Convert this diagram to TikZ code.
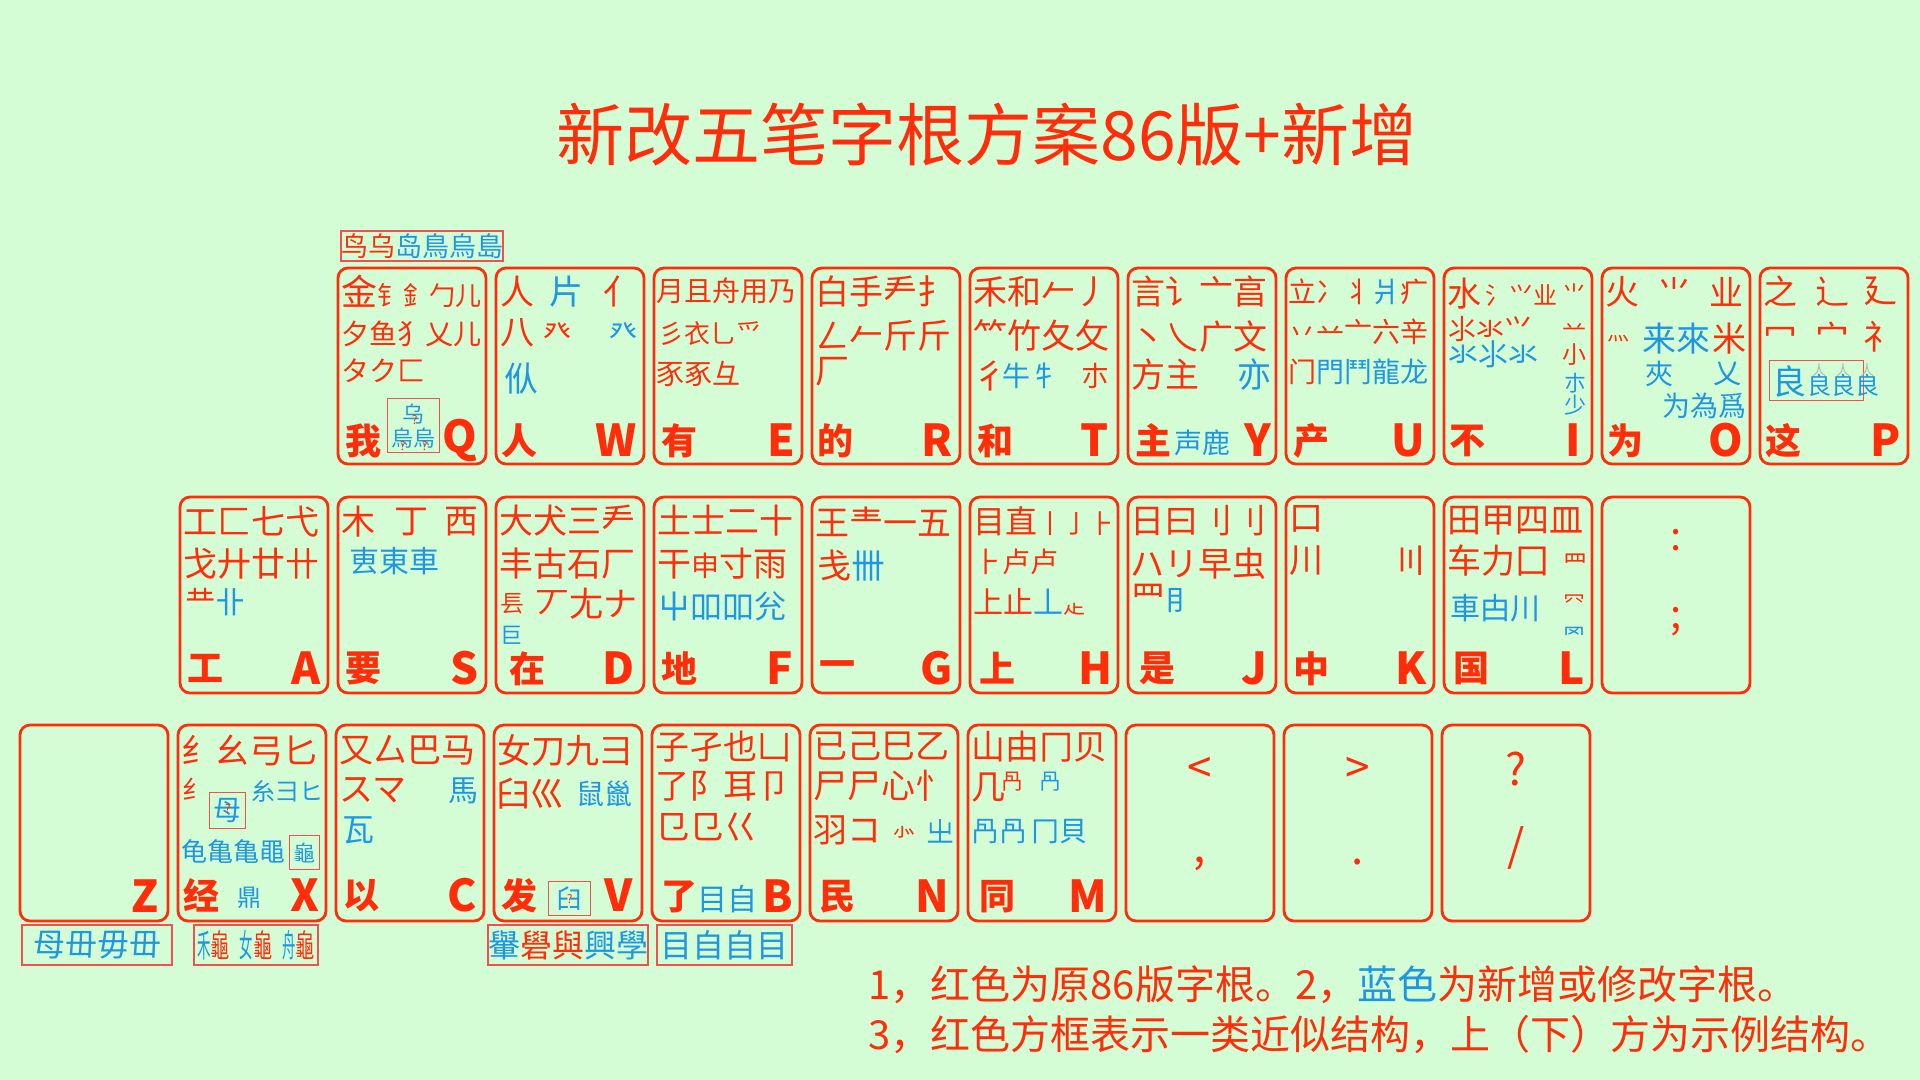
\documentclass[tikz,border=0pt]{standalone}
\usepackage{fontspec}
\usepackage{graphicx}
\setmainfont{Noto Sans CJK SC}
\usetikzlibrary{calc,positioning}

\definecolor{kred}{RGB}{255,45,10}
\definecolor{kblue}{RGB}{30,150,225}
\definecolor{kbg}{RGB}{213,253,213}
\definecolor{kbox}{RGB}{240,80,80}
\definecolor{kgrey}{RGB}{175,185,175}
\newcommand{\blu}[1]{\textcolor{kblue}{#1}}
\newcommand{\guicomp}[1]{\blu{\scalebox{0.42}[1]{#1}}\scalebox{0.6}[1]{龜}}

\tikzset{
  keybox/.style={draw=kred, line width=1.4pt, rounded corners=5pt,
    minimum width=74pt, minimum height=98pt, inner sep=0pt},
  rad/.style={anchor=west, inner sep=0pt, text=kred, font=\fontsize{17}{17}\selectfont},
  radsm/.style={rad, font=\fontsize{14}{14}\selectfont},
  radxs/.style={rad, font=\fontsize{11}{11}\selectfont},
  bl/.style={text=kblue},
  keych/.style={anchor=west, inner sep=0pt, text=kred, font=\fontsize{18}{18}\selectfont\bfseries},
  keylet/.style={anchor=east, inner sep=0pt, text=kred, font=\fontsize{22}{22}\selectfont\bfseries},
  punct/.style={inner sep=0pt, text=kred, font=\fontsize{22}{22}\selectfont},
  qmark/.style={inner sep=0pt, text=kred, font=\fontsize{6}{6}\selectfont},
  samplebox/.style={draw=kbox, line width=0.7pt, inner sep=0pt, text=kblue,
    font=\fontsize{16}{16}\selectfont},
  note/.style={anchor=west, inner sep=0pt, text=kred, font=\fontsize{20}{20}\selectfont},
}

\begin{document}
\begin{tikzpicture}[x=0.5pt, y=-0.5pt]
\fill[kbg] (0,0) rectangle (1920,1080);
\useasboundingbox (0,0) rectangle (1920,1080);

\node[inner sep=0pt, text=kred, font=\fontsize{34}{34}\selectfont] (title) at (987,135) {新改五笔字根方案86版+新增};

% key boxes
\foreach \k/\x in {q/338,w/496,e/654,r/812,t/970,y/1128,u/1286,i/1444,o/1602,p/1760}
  \node[keybox] (\k) at (\x+74,366) {};
\foreach \k/\x in {a/180,s/338,d/496,f/654,g/812,h/970,j/1128,k/1286,l/1444,semi/1602}
  \node[keybox] (\k) at (\x+74,595) {};
\foreach \k/\x in {z/20,x/178,c/336,v/494,b/652,n/810,m/968,lt/1126,gt/1284,qm/1442}
  \node[keybox] (\k) at (\x+74,823) {};

% Q
\node[samplebox, minimum width=79pt, minimum height=15pt, font=\fontsize{13.5}{13.5}\selectfont] (q-smp) at (422,246) {\textcolor{kred}{鸟乌}岛鳥烏島};
\node[rad, font=\fontsize{13}{13}\selectfont] (q-r1) at ($(q.north west)+(4,25)$) {{\fontsize{18}{18}\selectfont 金}钅釒勹儿};
\node[radsm] (q-r2) at ($(q.north west)+(4,67)$) {夕鱼犭乂儿};
\node[radsm] (q-r3) at ($(q.north west)+(4,104)$) {タク匚};
\node[keych] (q-ch) at ($(q.north west)+(8,174)$) {我};
\node[samplebox, minimum width=26pt, minimum height=27pt] (q-bx) at ($(q.north west)+(77,159)$) {};
\node[radxs, bl, anchor=center] (q-bx1) at ($(q-bx.center)+(0,-12)$) {乌};
\node[radxs, bl, anchor=center] (q-bx2) at ($(q-bx.center)+(0,13)$) {烏烏};
\node[qmark] (q-bxq1) at ($(q-bx1.center)+(1,6)$) {?};
\node[qmark] (q-bxq2) at ($(q-bx2.center)+(-11,7)$) {?};
\node[qmark] (q-bxq3) at ($(q-bx2.center)+(11,7)$) {?};
\node[keylet] (q-let) at ($(q.north east)+(-10,174)$) {Q};

% W
\node[rad] (w-r1a) at ($(w.north west)+(5,25)$) {人};
\node[rad, bl] (w-r1b) at ($(w.north west)+(54,25)$) {片};
\node[rad, anchor=east] (w-r1c) at ($(w.north east)+(-8,25)$) {亻};
\node[rad] (w-r2a) at ($(w.north west)+(5,66)$) {八};
\node[radsm] (w-r2b) at ($(w.north west)+(48,66)$) {癶};
\node[radsm, bl, anchor=east] (w-r2c) at ($(w.north east)+(-8,66)$) {癶};
\node[rad, bl] (w-r3) at ($(w.north west)+(9,112)$) {㐺};
\node[keych] (w-ch) at ($(w.north west)+(6,174)$) {人};
\node[keylet] (w-let) at ($(w.north east)+(-8,174)$) {W};

% E
\node[radsm] (e-r1) at ($(e.north west)+(3,24)$) {月且舟用乃};
\node[radsm, font=\fontsize{13}{13}\selectfont] (e-r2) at ($(e.north west)+(5,67)$) {彡衣⺃爫};
\node[radsm] (e-r3) at ($(e.north west)+(3,107)$) {豕豖彑};
\node[keych] (e-ch) at ($(e.north west)+(8,174)$) {有};
\node[keylet] (e-let) at ($(e.north east)+(-8,174)$) {E};

% R
\node[rad] (r-r1) at ($(r.north west)+(4,25)$) {白手龵扌};
\node[rad] (r-r2) at ($(r.north west)+(4,69)$) {ㄥ𠂉斤斤};
\node[rad] (r-r3) at ($(r.north west)+(4,105)$) {厂};
\node[keych] (r-ch) at ($(r.north west)+(6,174)$) {的};
\node[keylet] (r-let) at ($(r.north east)+(-8,174)$) {R};

% T
\node[rad] (t-r1) at ($(t.north west)+(4,25)$) {禾和𠂉丿};
\node[rad] (t-r2) at ($(t.north west)+(4,69)$) {⺮竹夂攵};
\node[rad] (t-r3a) at ($(t.north west)+(4,109)$) {彳};
\node[radsm, bl] (t-r3b) at ($(t.north west)+(33,109)$) {牛牜};
\node[radsm, anchor=east] (t-r3c) at ($(t.north east)+(-10,109)$) {朩};
\node[keych] (t-ch) at ($(t.north west)+(8,174)$) {和};
\node[keylet] (t-let) at ($(t.north east)+(-10,174)$) {T};

% Y
\node[rad] (y-r1) at ($(y.north west)+(4,25)$) {言讠亠亯};
\node[rad] (y-r2) at ($(y.north west)+(4,70)$) {丶乀广文};
\node[rad] (y-r3a) at ($(y.north west)+(4,108)$) {方主};
\node[rad, bl, anchor=east] (y-r3b) at ($(y.north east)+(-6,108)$) {亦};
\node[keych] (y-ch) at ($(y.north west)+(8,174)$) {主};
\node[radsm, bl] (y-ch2) at ($(y.north west)+(47,176)$) {声鹿};
\node[keylet] (y-let) at ($(y.north east)+(-6,174)$) {Y};

% U
\node[radsm] (u-r1) at ($(u.north west)+(3,25)$) {立冫丬\blu{爿}疒};
\node[radsm] (u-r2) at ($(u.north west)+(3,65)$) {丷䒑亠六辛};
\node[radsm] (u-r3) at ($(u.north west)+(3,105)$) {门\blu{門鬥龍龙}};
\node[keych] (u-ch) at ($(u.north west)+(8,174)$) {产};
\node[keylet] (u-let) at ($(u.north east)+(-10,174)$) {U};

% I
\node[rad] (i-r1a) at ($(i.north west)+(4,27)$) {水};
\node[radsm, font=\fontsize{12}{12}\selectfont] (i-r1b) at ($(i.north west)+(42,29)$) {氵⺍业};
\node[radsm] (i-r2) at ($(i.north west)+(5,62)$) {⺢氺⺍};
\node[radsm, bl, font=\fontsize{15}{15}\selectfont] (i-r3) at ($(i.north west)+(5,88)$) {氺⺢氺};
\node[radxs, font=\fontsize{12}{12}\selectfont, anchor=east] (i-c1) at ($(i.north east)+(-7,27)$) {⺌};
\node[radxs, font=\fontsize{12}{12}\selectfont, anchor=east] (i-c2) at ($(i.north east)+(-7,64)$) {䒑};
\node[radxs, font=\fontsize{12}{12}\selectfont, anchor=east] (i-c3) at ($(i.north east)+(-7,88)$) {小};
\node[radxs, bl, anchor=east] (i-c4) at ($(i.north east)+(-7,117)$) {朩};
\node[radxs, bl, anchor=east] (i-c5) at ($(i.north east)+(-7,139)$) {少};
\node[keych] (i-ch) at ($(i.north west)+(6,174)$) {不};
\node[keylet] (i-let) at ($(i.north east)+(-12,174)$) {I};

% O
\node[rad] (o-r1a) at ($(o.north west)+(4,25)$) {火};
\node[rad] (o-r1b) at ($(o.north west)+(56,25)$) {⺌};
\node[rad, anchor=east] (o-r1c) at ($(o.north east)+(-8,25)$) {业};
\node[radxs] (o-r2a) at ($(o.north west)+(6,72)$) {灬};
\node[rad, bl] (o-r2b) at ($(o.north west)+(41,72)$) {来來};
\node[rad, anchor=east] (o-r2c) at ($(o.north east)+(-5,72)$) {米};
\node[radsm, bl] (o-r3a) at ($(o.north west)+(44,107)$) {夾};
\node[radsm, bl] (o-r3b) at ($(o.north west)+(112,107)$) {乂};
\node[radsm, bl, anchor=east] (o-r4) at ($(o.north east)+(-5,139)$) {为為爲};
\node[keych] (o-ch) at ($(o.north west)+(6,174)$) {为};
\node[keylet] (o-let) at ($(o.north east)+(-8,174)$) {O};

% P
\node[rad] (p-r1a) at ($(p.north west)+(4,25)$) {之};
\node[rad] (p-r1b) at ($(p.north west)+(56,25)$) {辶};
\node[rad] (p-r1c) at ($(p.north west)+(104,25)$) {廴};
\node[rad] (p-r2a) at ($(p.north west)+(4,70)$) {冖};
\node[rad] (p-r2b) at ($(p.north west)+(56,70)$) {宀};
\node[rad] (p-r2c) at ($(p.north west)+(104,70)$) {礻};
\node[samplebox, minimum width=47pt, minimum height=20pt] (p-bx) at ($(p.north west)+(58,114)$) {};
\node[rad, bl] (p-bx0) at ($(p-bx.west)+(3,1)$) {良};
\node[radxs, bl, font=\fontsize{12}{12}\selectfont] (p-bx1) at ($(p-bx0.east)+(0,4)$) {良良良};
\node[radxs, text=kgrey, font=\fontsize{7}{7}\selectfont, anchor=south] (p-bx2) at ($(p-bx1.north)+(0,3)$) {\makebox[12pt]{人}\makebox[12pt]{人}\makebox[12pt]{人}};
\node[keych] (p-ch) at ($(p.north west)+(6,174)$) {这};
\node[keylet] (p-let) at ($(p.north east)+(-8,174)$) {P};

% A
\node[rad] (a-r1) at ($(a.north west)+(4,26)$) {工匚七弋};
\node[rad] (a-r2) at ($(a.north west)+(4,68)$) {戈廾廿卄};
\node[radsm, font=\fontsize{15}{15}\selectfont] (a-r3) at ($(a.north west)+(6,106)$) {龷\blu{卝}};
\node[keych] (a-ch) at ($(a.north west)+(8,173)$) {工};
\node[keylet] (a-let) at ($(a.north east)+(-8,173)$) {A};

% S
\node[rad] (s-r1a) at ($(s.north west)+(4,26)$) {木};
\node[rad] (s-r1b) at ($(s.north west)+(57,26)$) {丁};
\node[rad, anchor=east] (s-r1c) at ($(s.north east)+(-9,26)$) {西};
\node[radsm, bl, font=\fontsize{15}{15}\selectfont] (s-r2) at ($(s.north west)+(12,66)$) {叀東車};
\node[keych] (s-ch) at ($(s.north west)+(8,173)$) {要};
\node[keylet] (s-let) at ($(s.north east)+(-8,173)$) {S};

% D
\node[rad] (d-r1) at ($(d.north west)+(4,25)$) {大犬三龵};
\node[rad] (d-r2) at ($(d.north west)+(4,68)$) {丰古石厂};
\node[radxs, font=\fontsize{12}{12}\selectfont] (d-r3a) at ($(d.north west)+(5,108)$) {镸};
\node[rad] (d-r3b) at ($(d.north west)+(40,108)$) {丆尢ナ};
\node[radxs, bl] (d-r4) at ($(d.north west)+(5,140)$) {巨};
\node[keych] (d-ch) at ($(d.north west)+(14,173)$) {在};
\node[keylet] (d-let) at ($(d.north east)+(-10,173)$) {D};

% F
\node[rad] (f-r1) at ($(f.north west)+(4,25)$) {土士二十};
\node[rad] (f-r2) at ($(f.north west)+(4,68)$) {干{\fontsize{14}{14}\selectfont 申}寸雨};
\node[rad, bl, font=\fontsize{16}{16}\selectfont] (f-r3) at ($(f.north west)+(5,111)$) {屮吅吅兊};
\node[keych] (f-ch) at ($(f.north west)+(8,173)$) {地};
\node[keylet] (f-let) at ($(f.north east)+(-10,173)$) {F};

% G
\node[rad] (g-r1) at ($(g.north west)+(4,26)$) {王龶一五};
\node[rad] (g-r2) at ($(g.north west)+(6,70)$) {戋\blu{卌}};
\node[keych] (g-ch) at ($(g.north west)+(8,173)$) {一};
\node[keylet] (g-let) at ($(g.north east)+(-8,173)$) {G};

% H
\node[rad, font=\fontsize{16}{16}\selectfont] (h-r1) at ($(h.north west)+(4,26)$) {目直{\fontsize{13}{13}\selectfont 丨亅⺊}};
\node[radsm] (h-r2) at ($(h.north west)+(5,66)$) {⺊卢卢};
\node[radsm, font=\fontsize{15}{15}\selectfont] (h-r3) at ($(h.north west)+(4,106)$) {上止\blu{丄}{\fontsize{11}{11}\selectfont 龰}};
\node[keych] (h-ch) at ($(h.north west)+(10,173)$) {上};
\node[keylet] (h-let) at ($(h.north east)+(-6,173)$) {H};

% J
\node[rad] (j-r1) at ($(j.north west)+(3,25)$) {日曰刂⺉};
\node[rad] (j-r2) at ($(j.north west)+(3,68)$) {ハリ早虫};
\node[rad] (j-r3) at ($(j.north west)+(4,103)$) {⺫{\color{kblue}\fontsize{14}{14}\selectfont ⺝}};
\node[keych] (j-ch) at ($(j.north west)+(12,173)$) {是};
\node[keylet] (j-let) at ($(j.north east)+(-10,173)$) {J};

% K
\node[rad] (k-r1) at ($(k.north west)+(4,23)$) {口};
\node[rad] (k-r2a) at ($(k.north west)+(4,65)$) {川};
\node[rad, anchor=east] (k-r2b) at ($(k.north east)+(-8,65)$) {〣};
\node[keych] (k-ch) at ($(k.north west)+(8,173)$) {中};
\node[keylet] (k-let) at ($(k.north east)+(-8,173)$) {K};

% L
\node[rad] (l-r1) at ($(l.north west)+(4,25)$) {田甲四皿};
\node[rad] (l-r2) at ($(l.north west)+(4,65)$) {车力囗};
\node[radxs, font=\fontsize{12}{12}\selectfont, anchor=east] (l-c2) at ($(l.north east)+(-6,68)$) {⺲};
\node[radsm, bl, font=\fontsize{15}{15}\selectfont] (l-r3) at ($(l.north west)+(7,113)$) {車甴川};
\node[radxs, anchor=east] (l-c3) at ($(l.north east)+(-8,108)$) {㓁};
\node[radxs, bl, anchor=east] (l-c4) at ($(l.north east)+(-8,140)$) {罓};
\node[keych] (l-ch) at ($(l.north west)+(10,173)$) {国};
\node[keylet] (l-let) at ($(l.north east)+(-8,173)$) {L};

% semicolon key
\node[punct, font=\fontsize{20}{20}\selectfont] (semi-a) at ($(semi.north)+(0,45)$) {:};
\node[punct, font=\fontsize{20}{20}\selectfont] (semi-b) at ($(semi.north)+(0,126)$) {;};

% Z
\node[keylet] (z-let) at ($(z.north east)+(-10,173)$) {Z};
\node[samplebox, minimum width=75pt, minimum height=20pt] (z-smp) at (97,945) {母毌毋毌};

% X
\node[rad] (x-r1) at ($(x.north west)+(4,27)$) {纟幺弓匕};
\node[radsm, font=\fontsize{13}{13}\selectfont] (x-r2a) at ($(x.north west)+(5,65)$) {纟};
\node[samplebox, minimum width=18pt, minimum height=18pt] (x-bx) at ($(x.north west)+(51,87)$) {};
\node[radsm, bl, anchor=center] (x-bx1) at (x-bx.center) {母};
\node[qmark] (x-bxq) at ($(x-bx.center)+(0,-2)$) {?};
\node[radsm, bl, font=\fontsize{12}{12}\selectfont] (x-r2b) at ($(x.north west)+(74,68)$) {糸⺕ヒ};
\node[radsm, bl, font=\fontsize{13}{13}\selectfont] (x-r3) at ($(x.north west)+(4,128)$) {龟亀亀黽};
\node[samplebox, minimum width=15pt, minimum height=17pt] (x-bx2) at ($(x.north west)+(128,129)$) {};
\node[radxs, bl, anchor=center] (x-bx3) at (x-bx2.center) {龜};
\node[keych] (x-ch) at ($(x.north west)+(6,172)$) {经};
\node[radsm, bl, font=\fontsize{12}{12}\selectfont] (x-ch2) at ($(x.north west)+(60,174)$) {鼎};
\node[keylet] (x-let) at ($(x.north east)+(-8,172)$) {X};
\node[samplebox, minimum width=62pt, minimum height=20pt, text=kred] (x-smp) at (256,945) {\guicomp{禾}\hspace{5pt}\guicomp{女}\hspace{5pt}\guicomp{舟}};

% C
\node[rad] (c-r1) at ($(c.north west)+(4,27)$) {又厶巴马};
\node[rad] (c-r2a) at ($(c.north west)+(4,67)$) {スマ};
\node[radsm, bl, font=\fontsize{15}{15}\selectfont, anchor=east] (c-r2b) at ($(c.north east)+(-7,67)$) {馬};
\node[radsm, bl, font=\fontsize{16}{16}\selectfont] (c-r3) at ($(c.north west)+(7,107)$) {瓦};
\node[keych] (c-ch) at ($(c.north west)+(8,172)$) {以};
\node[keylet] (c-let) at ($(c.north east)+(-8,172)$) {C};

% V
\node[rad] (v-r1) at ($(v.north west)+(4,27)$) {女刀九彐};
\node[rad] (v-r2a) at ($(v.north west)+(3,70)$) {臼巛};
\node[radsm, bl] (v-r2b) at ($(v.north west)+(83,70)$) {鼠巤};
\node[keych] (v-ch) at ($(v.north west)+(8,172)$) {发};
\node[samplebox, minimum width=21pt, minimum height=17pt] (v-bx) at ($(v.north west)+(77,175)$) {};
\node[radsm, bl, anchor=center, font=\fontsize{13}{13}\selectfont] (v-bx1) at (v-bx.center) {⺽};
\node[qmark] (v-bxq) at (v-bx.center) {?};
\node[keylet] (v-let) at ($(v.north east)+(-10,172)$) {V};
\node[samplebox, minimum width=80pt, minimum height=20pt, text=kred] (v-smp) at (568,945) {\blu{轝}礐與\blu{興學}};

% B
\node[rad] (b-r1) at ($(b.north west)+(4,23)$) {子孑也凵};
\node[rad] (b-r2) at ($(b.north west)+(4,63)$) {了阝耳卩};
\node[rad] (b-r3) at ($(b.north west)+(4,103)$) {⺋㔾巜};
\node[keych] (b-ch) at ($(b.north west)+(10,173)$) {了};
\node[radsm, bl, font=\fontsize{15}{15}\selectfont] (b-ch2) at ($(b.north west)+(46,175)$) {目自};
\node[keylet] (b-let) at ($(b.north east)+(-8,173)$) {B};
\node[samplebox, minimum width=67.5pt, minimum height=20pt] (b-smp) at (724.5,945) {目自自目};

% N
\node[rad] (n-r1) at ($(n.north west)+(4,23)$) {已己巳乙};
\node[rad] (n-r2) at ($(n.north west)+(4,62)$) {尸⼫心忄};
\node[rad] (n-r3a) at ($(n.north west)+(4,107)$) {羽コ};
\node[radxs, font=\fontsize{12}{12}\selectfont] (n-r3b) at ($(n.north west)+(83,109)$) {⺗};
\node[radsm, bl, anchor=east] (n-r3c) at ($(n.north east)+(-5,108)$) {㞢};
\node[keych] (n-ch) at ($(n.north west)+(10,173)$) {民};
\node[keylet] (n-let) at ($(n.north east)+(-10,173)$) {N};

% M
\node[rad] (m-r1) at ($(m.north west)+(4,23)$) {山由冂贝};
\node[rad] (m-r2a) at ($(m.north west)+(4,64)$) {几};
\node[radxs] (m-r2b) at ($(m.north west)+(34,58)$) {冎};
\node[radxs, bl] (m-r2c) at ($(m.north west)+(72,58)$) {冎};
\node[radsm, bl] (m-r3) at ($(m.north west)+(4,108)$) {冎冎\,冂貝};
\node[keych] (m-ch) at ($(m.north west)+(12,173)$) {同};
\node[keylet] (m-let) at ($(m.north east)+(-10,173)$) {M};

% punctuation keys
\node[punct] (lt-a) at ($(lt.north)+(0,47)$) {<};
\node[punct] (lt-b) at ($(lt.north)+(0,140)$) {,};
\node[punct] (gt-a) at ($(gt.north)+(0,47)$) {>};
\node[punct] (gt-b) at ($(gt.north)+(0,138)$) {.};
\node[punct] (qm-a) at ($(qm.north)+(0,45)$) {?};
\node[punct] (qm-b) at ($(qm.north)+(0,124)$) {/};

% notes
\node[note] (note1) at (868,985) {1，红色为原86版字根。2，\blu{蓝色}为新增或修改字根。};
\node[note] (note2) at (868,1035) {3，红色方框表示一类近似结构，上（下）方为示例结构。};
\end{tikzpicture}
\end{document}
